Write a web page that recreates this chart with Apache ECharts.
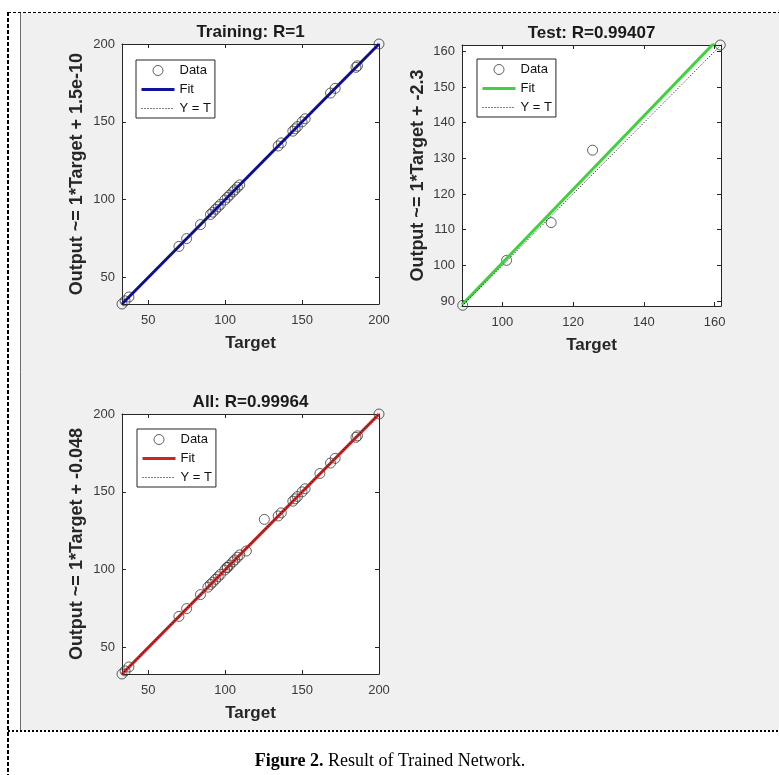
<!DOCTYPE html>
<html><head><meta charset="utf-8">
<script src="https://cdn.jsdelivr.net/npm/echarts@6/dist/echarts.min.js"></script>
<style>html,body{margin:0;padding:0;background:#fff}#c{width:779px;height:775px}</style>
</head><body><div id="c"></div>
<script>
// ---- data ----
const trainTarget = [33, 35, 37.5, 70, 75, 84, 90.5, 92, 93.8, 95.5, 97, 99.8, 101.5, 103, 105, 106.3, 108, 109.5, 134.5, 136.5, 144, 145.5, 147, 150, 152, 168.5, 171.5, 185, 186, 200];
const trainOutput = [33, 35, 37.5, 70, 75, 84, 90.5, 92, 93.8, 95.5, 97, 99.8, 101.5, 103, 105, 106.3, 108, 109.5, 134.5, 136.5, 144, 145.5, 147, 150, 152, 168.5, 171.5, 185, 186, 200];
const testTarget = [88.8, 101.2, 113.8, 125.5, 161.6];
const testOutput = [88.8, 101.4, 112.0, 132.3, 161.8];
const allTarget = trainTarget.concat(testTarget);
const allOutput = trainOutput.concat(testOutput);
const fitSlope = [1, 1.03, 1];
const fitIntercept = [1.5e-10, -2.3, -0.048];
const titles = ['Training: R=1', 'Test: R=0.99407', 'All: R=0.99964'];
const yLabels = ['Output ~= 1*Target + 1.5e-10', 'Output ~= 1*Target + -2.3', 'Output ~= 1*Target + -0.048'];
const xLabel = 'Target';
const axisRanges = [[33, 200], [88.6, 161.8], [33, 200]];
const xTicks = [[50, 100, 150, 200], [100, 120, 140, 160], [50, 100, 150, 200]];
const yTicks = [[50, 100, 150, 200], [90, 100, 110, 120, 130, 140, 150, 160], [50, 100, 150, 200]];
const legendNames = ['Data', 'Fit', 'Y = T'];
const caption = ['Figure 2.', ' Result of Trained Network.'];

// ---- layout / style ----
const targets = [trainTarget, testTarget, allTarget];
const outputs = [trainOutput, testOutput, allOutput];
const fitColors = ['#12129c', '#3fd23f', '#c92727'];
const layout = [
  {grid: {left: 122, top: 44, width: 257, height: 260}, legend: {left: 136, top: 60}, yGap: 36},
  {grid: {left: 462, top: 45, width: 259, height: 261}, legend: {left: 477, top: 59}, yGap: 35},
  {grid: {left: 122, top: 414, width: 257, height: 260}, legend: {left: 137, top: 429}, yGap: 36}
];
const SANS = '"Liberation Sans", Arial, Helvetica, sans-serif';
const SERIF = '"Liberation Serif", "Times New Roman", serif';
const AX = '#262626';

const grid = [], xAxis = [], yAxis = [], series = [], legend = [], title = [];
layout.forEach((L, i) => {
  const g = L.grid;
  grid.push(Object.assign({show: true, backgroundColor: '#fff', borderWidth: 0}, g));
  const [lo, hi] = axisRanges[i];
  const common = {type: 'value', min: lo, max: hi, gridIndex: i, splitLine: {show: false},
    axisLine: {show: true, lineStyle: {color: AX, width: 1}}};
  xAxis.push(Object.assign({}, common, {
    position: 'bottom', name: xLabel, nameLocation: 'middle', nameGap: 31,
    nameTextStyle: {fontFamily: SANS, fontWeight: 'bold', fontSize: 17, color: '#262626'},
    axisTick: {show: true, inside: true, length: 4, lineStyle: {color: AX}, customValues: xTicks[i]},
    axisLabel: {show: true, margin: 10, fontFamily: SANS, fontSize: 13, color: '#3a3a3a', customValues: xTicks[i]}
  }));
  xAxis.push(Object.assign({}, common, {
    position: 'top',
    axisTick: {show: true, inside: true, length: 4, lineStyle: {color: AX}, customValues: xTicks[i]},
    axisLabel: {show: false}
  }));
  yAxis.push(Object.assign({}, common, {
    position: 'left', name: yLabels[i], nameLocation: 'middle', nameGap: L.yGap,
    nameTextStyle: {fontFamily: SANS, fontWeight: 'bold', fontSize: 18, color: '#262626'},
    axisTick: {show: true, inside: true, length: 4, lineStyle: {color: AX}, customValues: yTicks[i]},
    axisLabel: {show: true, margin: 7, fontFamily: SANS, fontSize: 13, color: '#3a3a3a', customValues: yTicks[i]}
  }));
  yAxis.push(Object.assign({}, common, {
    position: 'right',
    axisTick: {show: true, inside: true, length: 4, lineStyle: {color: AX}, customValues: yTicks[i]},
    axisLabel: {show: false}
  }));
  const sfx = '#' + i;
  const pts = targets[i].map((t, k) => [t, outputs[i][k]]);
  series.push({
    type: 'scatter', name: legendNames[0] + sfx, xAxisIndex: 2 * i, yAxisIndex: 2 * i,
    data: pts, symbol: 'circle', symbolSize: 10, silent: true,
    itemStyle: {color: 'rgba(0,0,0,0)', borderColor: '#383838', borderWidth: 1}
  });
  const a = fitSlope[i], b = fitIntercept[i];
  series.push({
    type: 'line', name: legendNames[1] + sfx, xAxisIndex: 2 * i, yAxisIndex: 2 * i,
    data: [[lo, a * lo + b], [hi, a * hi + b]], symbol: 'none', silent: true, clip: true,
    itemStyle: {color: fitColors[i]},
    lineStyle: {color: fitColors[i], width: 3}
  });
  series.push({
    type: 'line', name: legendNames[2] + sfx, xAxisIndex: 2 * i, yAxisIndex: 2 * i,
    data: [[lo, lo], [hi, hi]], symbol: 'none', silent: true, clip: true,
    itemStyle: {color: '#000'},
    lineStyle: {color: '#000', width: 1, type: [1, 2]}
  });
  const hidden = {color: 'rgba(0,0,0,0)', borderWidth: 0, opacity: 0};
  legend.push({
    left: L.legend.left, top: L.legend.top, orient: 'vertical', selectedMode: false,
    backgroundColor: '#fff', borderColor: AX, borderWidth: 1, padding: [4, 4, 3, 4],
    itemWidth: 33, itemHeight: 10, itemGap: 6,
    textStyle: {fontFamily: SANS, fontSize: 13, color: '#111'},
    formatter: n => n.split('#')[0],
    data: [
      {name: legendNames[0] + sfx, icon: 'circle', itemStyle: {color: 'rgba(0,0,0,0)', borderColor: '#383838', borderWidth: 1}},
      {name: legendNames[1] + sfx, itemStyle: hidden, lineStyle: {width: 3, color: fitColors[i], opacity: 1}},
      {name: legendNames[2] + sfx, itemStyle: hidden, lineStyle: {width: 1, type: [1, 2], color: '#000', opacity: 1}}
    ]
  });
  title.push({
    text: titles[i], left: g.left + g.width / 2, top: g.top - 20, textAlign: 'center', padding: 0,
    textStyle: {fontFamily: SANS, fontWeight: 'bold', fontSize: 17, color: '#1a1a1a'}
  });
});
title.push({
  text: '{b|' + caption[0] + '}{r|' + caption[1] + '}', left: 390, top: 752, textAlign: 'center', padding: 0,
  textStyle: {fontWeight: 'normal', rich: {
    b: {fontFamily: SERIF, fontWeight: 'bold', fontSize: 18, color: '#000'},
    r: {fontFamily: SERIF, fontWeight: 'normal', fontSize: 18, color: '#000'}
  }}
});

const chart = echarts.init(document.getElementById('c'), null, {renderer: 'canvas'});
chart.setOption({
  animation: false,
  backgroundColor: '#fff',
  graphic: [
    {type: 'rect', z: -10, shape: {x: 20, y: 13, width: 759, height: 717}, style: {fill: '#f0f0f0'}, silent: true},
    {type: 'line', z: -9, shape: {x1: 20.5, y1: 13, x2: 20.5, y2: 730}, style: {stroke: '#6a6a6a', lineWidth: 1}, silent: true},
    {type: 'line', z: -9, shape: {x1: 8, y1: 12, x2: 8, y2: 775}, style: {stroke: '#000', lineWidth: 2, lineDash: [4, 2]}, silent: true},
    {type: 'line', z: -9, shape: {x1: 8, y1: 12.5, x2: 779, y2: 12.5}, style: {stroke: '#000', lineWidth: 1, lineDash: [3, 2]}, silent: true},
    {type: 'line', z: -9, shape: {x1: 8, y1: 731, x2: 779, y2: 731}, style: {stroke: '#000', lineWidth: 2, lineDash: [2, 2]}, silent: true}
  ],
  title, legend, grid, xAxis, yAxis, series
});
</script></body></html>
